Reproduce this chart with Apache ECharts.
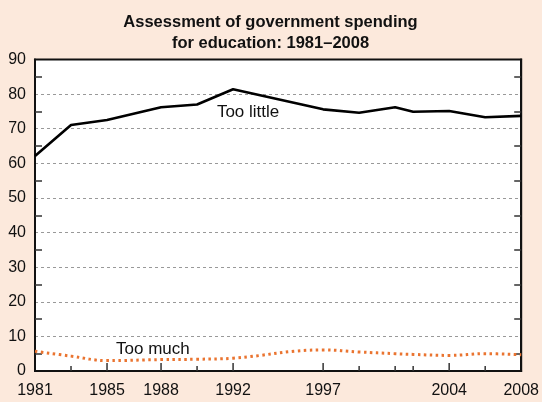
<!DOCTYPE html>
<html>
<head>
<meta charset="utf-8">
<script src="https://cdn.jsdelivr.net/npm/echarts@6/dist/echarts.min.js"></script>
<style>
html,body{margin:0;padding:0;background:#fce9dc;}
#c{width:542px;height:402px;}
</style>
</head>
<body>
<div id="c"></div>
<script>
// ---- data ----
const titleText = 'Assessment of government spending\nfor education: 1981\u20132008';
const years = [1981, 1983, 1985, 1988, 1990, 1992, 1997, 1999, 2001, 2002, 2004, 2006, 2008];
const tooLittle = [62.1, 71.1, 72.5, 76.2, 77.0, 81.4, 75.6, 74.6, 76.2, 74.9, 75.1, 73.3, 73.7];
const tooMuch = [5.7, 4.3, 3.0, 3.3, 3.4, 3.7, 6.1, 5.5, 5.0, 4.8, 4.5, 5.0, 4.7];
const xLabelYears = [1981, 1985, 1988, 1992, 1997, 2004, 2008];
const xTickYears = [1983, 1985, 1988, 1990, 1992, 1997, 1999, 2001, 2002, 2004, 2006];
const labelTooLittle = {text: 'Too little', at: [1991.1, 74.6]};
const labelTooMuch = {text: 'Too much', at: [1985.5, 6.4]};

const font = '"Liberation Sans", Arial, Helvetica, sans-serif';
const pair = (xs, ys) => xs.map((x, i) => [x, ys[i]]);

const chart = echarts.init(document.getElementById('c'), null, {renderer: 'canvas'});

function tickItem(params, api) {
  const yr = api.value(0);
  const p = api.coord([yr, 0]);
  const len = xLabelYears.indexOf(yr) >= 0 ? 8 : 5;
  return {
    type: 'line',
    shape: {x1: p[0], y1: p[1], x2: p[0], y2: p[1] - len},
    style: {stroke: '#333', lineWidth: 1.5}
  };
}

const yAxisCommon = {
  type: 'value', min: 0, max: 90, interval: 10,
  axisLine: {show: true, lineStyle: {color: '#111', width: 2}},
  axisTick: {show: false, inside: true},
  minorTick: {show: true, splitNumber: 2, length: 7, lineStyle: {color: '#333', width: 1.5}}
};

chart.setOption({
  backgroundColor: '#fce9dc',
  animation: false,
  title: {
    text: titleText,
    left: 265.5,
    top: 6.5,
    textAlign: 'center',
    textStyle: {fontFamily: font, fontSize: 16.5, fontWeight: 'bold', color: '#111', lineHeight: 21}
  },
  grid: {
    left: 35, right: 20, top: 59.5, bottom: 31,
    show: true, backgroundColor: '#ffffff', borderColor: '#111', borderWidth: 2
  },
  xAxis: {
    type: 'value', min: 1981, max: 2008,
    axisLine: {show: true, lineStyle: {color: '#111', width: 2}},
    axisTick: {show: false},
    axisLabel: {show: true, customValues: xLabelYears, margin: 12, fontFamily: font, fontSize: 16, color: '#111', formatter: v => String(v)},
    splitLine: {show: false}
  },
  yAxis: [Object.assign({}, yAxisCommon, {
    axisLabel: {margin: 9, fontFamily: font, fontSize: 16, color: '#111', padding: [6, 0, 0, 0]},
    splitLine: {show: true, showMinLine: false, showMaxLine: false, lineStyle: {color: '#999', type: [3, 3], width: 1}}
  }), Object.assign({}, yAxisCommon, {
    position: 'right',
    axisLabel: {show: false},
    splitLine: {show: false}
  })],
  series: [{
    name: 'ticks', type: 'custom', renderItem: tickItem, clip: false, silent: true,
    data: xTickYears.map(y => [y]), encode: {x: 0}, z: 5
  }, {
    name: 'Too little', type: 'line', data: pair(years, tooLittle),
    symbol: 'none', lineStyle: {color: '#000', width: 2.6},
    markPoint: {
      symbol: 'circle', symbolSize: 0, silent: true,
      data: [{coord: labelTooLittle.at, value: labelTooLittle.text}],
      label: {show: true, position: 'inside', align: 'left', formatter: labelTooLittle.text, fontFamily: font, fontSize: 17, color: '#111'}
    }
  }, {
    name: 'Too much', type: 'line', data: pair(years, tooMuch), smooth: 0.4,
    symbol: 'none', lineStyle: {color: '#ea7430', width: 3, type: [2.5, 3.5], cap: 'butt'},
    markPoint: {
      symbol: 'circle', symbolSize: 0, silent: true,
      data: [{coord: labelTooMuch.at, value: labelTooMuch.text}],
      label: {show: true, position: 'inside', align: 'left', formatter: labelTooMuch.text, fontFamily: font, fontSize: 17, color: '#111'}
    }
  }]
});
</script>
</body>
</html>
